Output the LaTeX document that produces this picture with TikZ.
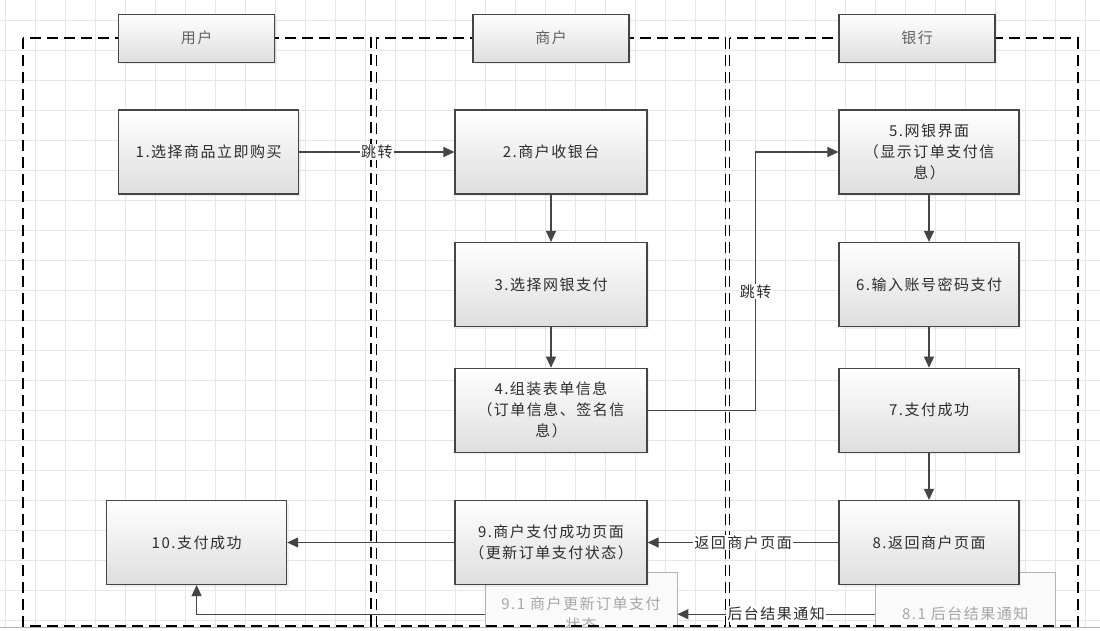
\documentclass[tikz,border=0pt]{standalone}
\usepackage{fontspec}
\setmainfont{Noto Sans CJK SC}[LetterSpace=10]
\usetikzlibrary{arrows.meta, shadows}

\definecolor{boxline}{HTML}{454545}
\definecolor{gridline}{HTML}{E6E6E6}
\definecolor{faintline}{HTML}{B4B4B4}
\definecolor{fainttext}{HTML}{A6A6A6}
\definecolor{boxtext}{HTML}{2C2C2C}

\tikzset{
    stepbox/.style={draw=boxline, line width=1.2pt, top color=white, bottom color=black!13,
        minimum width=180pt, minimum height=84pt, align=center, text=boxtext, inner sep=2pt,
        font=\fontsize{15}{21}\selectfont,
        drop shadow={shadow xshift=2pt, shadow yshift=-2pt, opacity=0.12}},
    widebox/.style={stepbox, minimum width=192pt},
    lanehead/.style={stepbox, minimum width=156pt, minimum height=48pt, text=black!62},
    ghostbox/.style={draw=faintline, line width=0.8pt, fill=black!2, minimum width=192pt,
        minimum height=84pt, align=center, text=fainttext, font=\fontsize{15}{21}\selectfont},
    lane/.style={line width=1.7pt, dash pattern=on 11pt off 6pt},
    flow/.style={draw=boxline, line width=1.2pt, -{Triangle[length=11pt,width=10pt]}},
    flowlabel/.style={fill=white, inner sep=1pt, text=boxtext, font=\fontsize{15}{18}\selectfont}
}

\begin{document}
\begin{tikzpicture}[x=1pt,y=-1pt]
    \useasboundingbox (0,0) rectangle (1100,630);
    \fill[white] (0,0) rectangle (1100,630);

    \begin{scope}
        \clip (0,0) rectangle (1100,626.5);

        % Grid
        \foreach \gx in {5,35,...,1085} {
                \draw[gridline] (\gx,0) -- (\gx,630);
            }
        \foreach \gy in {20,50,...,620} {
                \draw[gridline] (0,\gy) -- (1100,\gy);
            }

        % Notifications (behind)
        \draw (581,614.2) node[ghostbox] (s91) {9.1 商户更新订单支付\\状态};
        \draw (965.2,614.2) node[ghostbox, minimum width=180pt] (s81) {8.1 后台结果通知};

        % Lanes
        \draw[lane] (22.8,38.3) rectangle (371,625.7);
        \draw[lane] (376.4,38.3) rectangle (725.4,625.7);
        \draw[lane] (729.6,38.3) rectangle (1078,625.7);

        \draw (196.6,38.2) node[lanehead] (hUser) {用户};
        \draw (551,38.2) node[lanehead] (hShop) {商户};
        \draw (917,38.2) node[lanehead] (hBank) {银行};

        % Steps
        \draw (208.7,152) node[stepbox] (s1) {1.选择商品立即购买};
        \draw (551,152) node[widebox] (s2) {2.商户收银台};
        \draw (551,284.5) node[widebox] (s3) {3.选择网银支付};
        \draw (551,410.3) node[widebox] (s4) {4.组装表单信息\\（订单信息、签名信\\息）};
        \draw (929,152) node[stepbox] (s5) {5.网银界面\\（显示订单支付信\\息）};
        \draw (929,284.5) node[stepbox] (s6) {6.输入账号密码支付};
        \draw (929,410.3) node[stepbox] (s7) {7.支付成功};
        \draw (929,542.5) node[stepbox] (s8) {8.返回商户页面};
        \draw (551,542.5) node[widebox] (s9) {9.商户支付成功页面\\（更新订单支付状态）};
        \draw (196.6,542.5) node[stepbox] (s10) {10.支付成功};

        % Edges
        \foreach \source/\target in {s2/s3, s3/s4, s5/s6, s6/s7, s7/s8, s9/s10} {
                \draw[flow] (\source) -- (\target);
            }
        \draw[flow] (s1) -- node[flowlabel] {跳转} (s2);
        \draw[flow] (s4.east) -- ++(108,0) |- node[flowlabel, pos=0.23] {跳转} (s5.west);
        \draw[flow] (s8) -- node[flowlabel] {返回商户页面} (s9);
        \draw[flow] (s81) -- node[flowlabel] {后台结果通知} (s91);
        \draw[flow] (s91.west) -| (s10.south);
    \end{scope}

    \draw[black!30, line width=1pt] (0,627.5) -- (1100,627.5);
\end{tikzpicture}
\end{document}
